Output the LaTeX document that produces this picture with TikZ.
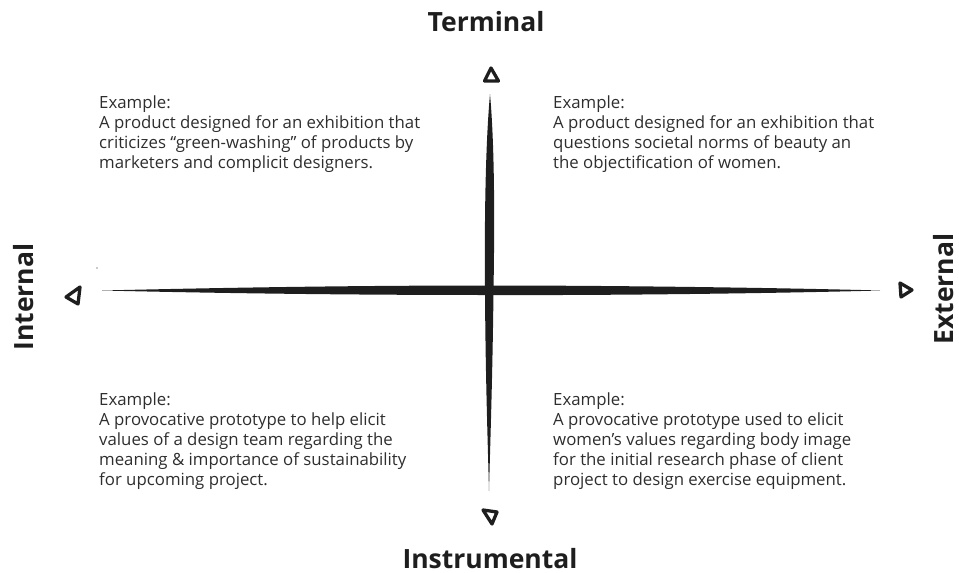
\documentclass[tikz,border=0pt]{standalone}
\usepackage{fontspec}
\setmainfont{Open Sans}
\newfontfamily\titlefont{Open Sans}
\definecolor{ink}{HTML}{1E1E1E}
\definecolor{bodyink}{HTML}{2E2E2E}
\begin{document}
\begin{tikzpicture}[x=1pt,y=-1pt,
  body/.style={anchor=base west,align=left,inner sep=0pt,text=bodyink,
    font=\fontsize{16.8}{20.2}\selectfont},
  axtitle/.style={inner sep=0pt,text=ink,font=\titlefont\bfseries\fontsize{26.5}{26.5}\selectfont},
  tri/.style={draw=ink,line width=3.3pt,line join=round,line cap=round},
  axis/.style={fill=ink,draw=none}]
\useasboundingbox (0,0) rectangle (959,573);
% axes
\fill[axis] (102,290.5) .. controls (230,287.5) and (360,285.5) .. (489,285.5)
  .. controls (620,285.5) and (790,288) .. (880,290.5)
  .. controls (790,293) and (620,295.5) .. (489,295)
  .. controls (360,295) and (230,293.5) .. (102,290.5) -- cycle;
\fill[axis] (490,94) .. controls (485,150) and (484.5,230) .. (485,291)
  .. controls (485.5,380) and (488,450) .. (489,491)
  .. controls (490,450) and (492.5,380) .. (493.5,291)
  .. controls (494.5,230) and (495,150) .. (490,94) -- cycle;
\coordinate (center) at (489,291);
% arrow triangles
\draw[tri] (491,68) -- (484.5,81) -- (498.5,81) -- cycle;
\draw[tri] (66,297) -- (80,287) -- (78,304) -- cycle;
\draw[tri] (912,290) -- (900,283) -- (901,297) -- cycle;
\draw[tri] (483,510) -- (497,512) -- (492,524) -- cycle;
\fill[ink] (97,268) circle (0.7);
% titles
\node[axtitle,anchor=base] (terminal) at (486,31) {Terminal};
\node[axtitle,anchor=base] (instrumental) at (490,568) {Instrumental};
\node[axtitle,anchor=base,rotate=90] (internal) at (33,297) {Internal};
\node[axtitle,anchor=base,rotate=90] (external) at (953.5,289) {External};
% examples
\node[body] (tl) at (99,168.6) {Example:\\A product designed for an exhibition that\\criticizes “green-washing” of products by\\marketers and complicit designers.};
\node[body] (tr) at (553,168.6) {Example:\\A product designed for an exhibition that\\questions societal norms of beauty an\\the objectification of women.};
\node[body] (bl) at (99,485.8) {Example:\\A provocative prototype to help elicit\\values of a design team regarding the\\meaning \& importance of sustainability\\for upcoming project.};
\node[body] (br) at (553,485.8) {Example:\\A provocative prototype used to elicit\\women’s values regarding body image\\for the initial research phase of client\\project to design exercise equipment.};
\end{tikzpicture}
\end{document}
